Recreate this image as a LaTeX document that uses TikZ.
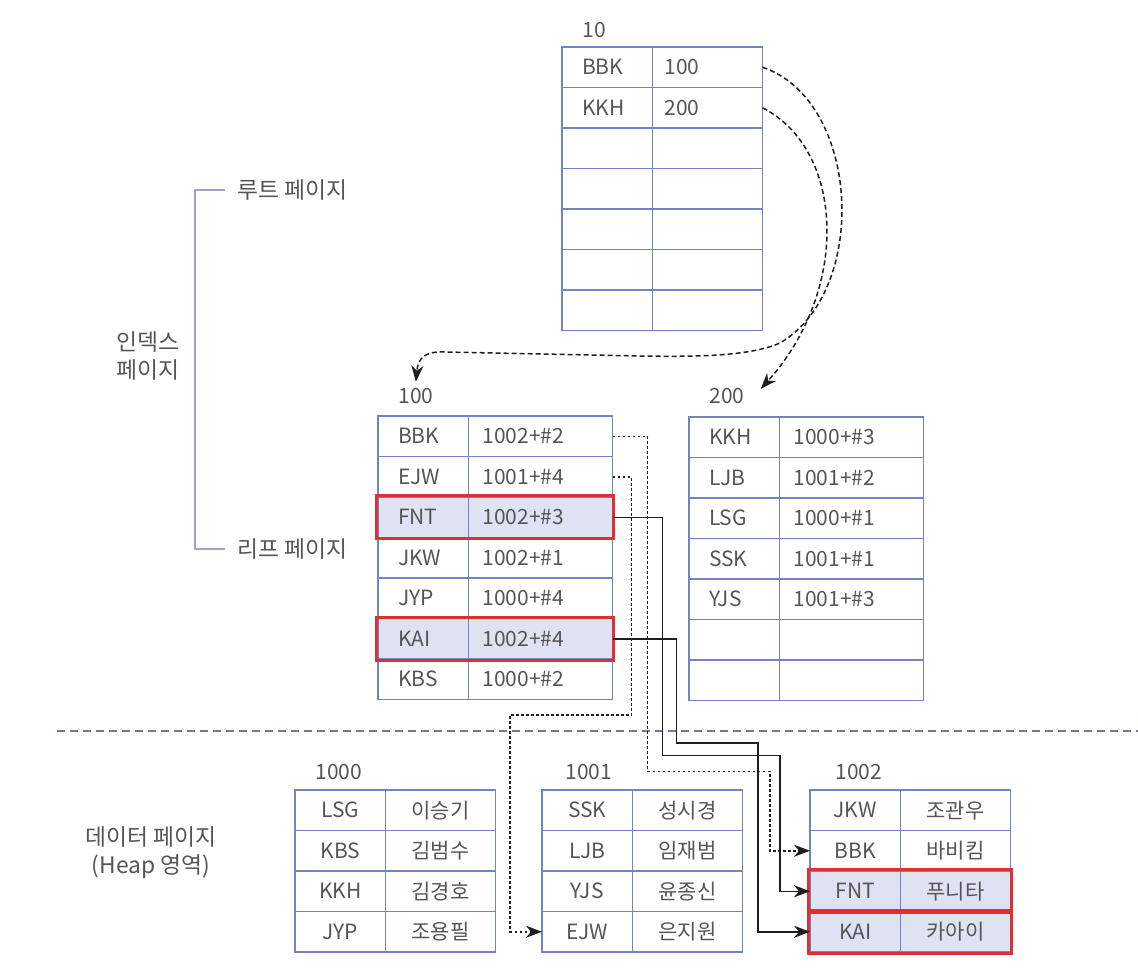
\documentclass[tikz,border=0pt]{standalone}
\usepackage{fontspec}
\setmainfont{Noto Sans CJK KR}
\usetikzlibrary{arrows.meta,fit}

\definecolor{tabline}{RGB}{118,130,198}
\definecolor{txt}{RGB}{85,85,85}
\definecolor{hl}{RGB}{222,226,242}
\definecolor{selred}{RGB}{222,48,48}
\definecolor{sepline}{RGB}{115,120,155}
\definecolor{brack}{RGB}{160,165,200}
\definecolor{arrowc}{RGB}{30,30,30}

\tikzset{
  cell/.style={draw=tabline, line width=0.9pt, minimum height=20.25pt, inner ysep=0pt,
    outer sep=0pt, anchor=north west, text=txt, font=\fontsize{10.5}{13}\selectfont},
  keycell/.style={cell, text width=25.25pt, inner xsep=10pt, align=left},
  idxval/.style={cell, text width=58pt, inner xsep=7pt, align=left},
  rootval/.style={cell, text width=43pt, inner xsep=6pt, align=left},
  datakey/.style={cell, text width=37.25pt, inner xsep=4pt, align=center},
  dataval/.style={cell, text width=47pt, inner xsep=4pt, align=center},
  pagelab/.style={anchor=south west, inner sep=0pt, text=txt, font=\fontsize{10.5}{13}\selectfont},
  sidelab/.style={inner sep=0pt, text=txt, font=\fontsize{11.4}{14}\selectfont, align=center},
  selbox/.style={draw=selred, line width=1.6pt, inner sep=0.6pt},
  ptr/.style={line width=0.75pt, draw=arrowc, -{Stealth[length=8pt,width=6pt,inset=2.5pt]}},
  ptrdash/.style={ptr, dash pattern=on 1.4pt off 1.1pt},
  rootptr/.style={ptr, dash pattern=on 2.5pt off 1.5pt},
}

\begin{document}
\begin{tikzpicture}[x=0.5pt, y=-0.5pt]
    \useasboundingbox (0,0) rectangle (1138,968);

    % Root page
    \foreach \k/\v [count=\i] in {BBK/100, KKH/200, ~/~, ~/~, ~/~, ~/~, ~/~} {
        \node[keycell] (r10k\i) at (562,{47+40.5*(\i-1)}) {\k};
        \node[rootval] (r10v\i) at (r10k\i.north east) {\v};
    }
    \node[pagelab] (lab10) at ([shift={(10pt,4.5pt)}]r10k1.north west) {10};

    % Leaf page 100
    \foreach \k/\v/\f [count=\i] in {BBK/1002+\#2/white, EJW/1001+\#4/white, FNT/1002+\#3/hl,
        JKW/1002+\#1/white, JYP/1000+\#4/white, KAI/1002+\#4/hl, KBS/1000+\#2/white} {
        \node[keycell, fill=\f] (p100k\i) at (378,{416+40.5*(\i-1)}) {\k};
        \node[idxval, fill=\f] (p100v\i) at (p100k\i.north east) {\v};
    }
    \node[pagelab] (lab100) at ([shift={(10pt,6pt)}]p100k1.north west) {100};

    % Leaf page 200
    \foreach \k/\v [count=\i] in {KKH/1000+\#3, LJB/1001+\#2, LSG/1000+\#1, SSK/1001+\#1,
        YJS/1001+\#3, ~/~, ~/~} {
        \node[keycell] (p200k\i) at (689,{417+40.5*(\i-1)}) {\k};
        \node[idxval] (p200v\i) at (p200k\i.north east) {\v};
    }
    \node[pagelab] (lab200) at ([shift={(10pt,6.5pt)}]p200k1.north west) {200};

    % Data pages
    \foreach \k/\v [count=\i] in {LSG/이승기, KBS/김범수, KKH/김경호, JYP/조용필} {
        \node[datakey] (d1000k\i) at (295,{790+40.5*(\i-1)}) {\k};
        \node[dataval] (d1000v\i) at (d1000k\i.north east) {\v};
    }
    \node[pagelab] (lab1000) at ([shift={(10pt,5pt)}]d1000k1.north west) {1000};

    \foreach \k/\v [count=\i] in {SSK/성시경, LJB/임재범, YJS/윤종신, EJW/은지원} {
        \node[datakey] (d1001k\i) at (542,{790+40.5*(\i-1)}) {\k};
        \node[dataval] (d1001v\i) at (d1001k\i.north east) {\v};
    }
    \node[pagelab] (lab1001) at ([shift={(11.5pt,5pt)}]d1001k1.north west) {1001};

    \foreach \k/\v/\f [count=\i] in {JKW/조관우/white, BBK/바비킴/white, FNT/푸니타/hl, KAI/카아이/hl} {
        \node[datakey, fill=\f] (d1002k\i) at (810,{790+40.5*(\i-1)}) {\k};
        \node[dataval, fill=\f] (d1002v\i) at (d1002k\i.north east) {\v};
    }
    \node[pagelab] (lab1002) at ([shift={(12.5pt,5pt)}]d1002k1.north west) {1002};

    % Selected rows
    \node[selbox, fit=(p100k3)(p100v3)] (sel1) {};
    \node[selbox, fit=(p100k6)(p100v6)] (sel2) {};
    \node[selbox, fit=(d1002k3)(d1002v3)] (sel3) {};
    \node[selbox, fit=(d1002k4)(d1002v4)] (sel4) {};

    % Index / data separator
    \draw[sepline, line width=0.9pt, dash pattern=on 4pt off 2.5pt] (57,731) -- (1138,731);

    % Side labels
    \node[sidelab, anchor=west] (lroot) at (237,190) {루트 페이지};
    \node[sidelab, anchor=west] (lleaf) at (237,549) {리프 페이지};
    \node[sidelab] (lindex) at (148,356) {인덱스\\페이지};
    \node[sidelab] (ldata) at (151,853) {데이터 페이지\\(Heap 영역)};
    \draw[brack, line width=0.8pt] ([xshift=-6pt]lroot.west) -- ++(-15pt,0) |- ([xshift=-6pt]lleaf.west);

    % Root -> leaf pointers
    \draw[rootptr] (r10v1.east) .. controls (860,100) and (870,290) .. (780,343)
        .. controls (750,356) and (700,357) .. (640,356) -- (445,352)
        .. controls (425,351) and (418,358) .. ([yshift=3pt]lab100.north);
    \draw[rootptr] (r10v2.east) .. controls (845,150) and (850,290) .. ([shift={(8pt,3.5pt)}]lab200.east);

    % Leaf -> data pointers
    \draw[ptrdash] (p100v1.east) -| ++(35,335) -| ([xshift=-20pt]d1002k2.west) -- (d1002k2.west);
    \draw[ptrdash] (p100v2.east) -| ++(19,238) -| ([xshift=-16pt]d1001k4.west) -- (d1001k4.west);
    \draw[ptr] (p100v3.east) -| ++(50,238) -| ([xshift=-15pt]d1002k3.west) -- (d1002k3.west);
    \draw[ptr] (p100v6.east) -| ++(64,104) -| ([xshift=-26pt]d1002k4.west) -- (d1002k4.west);

\end{tikzpicture}
\end{document}
